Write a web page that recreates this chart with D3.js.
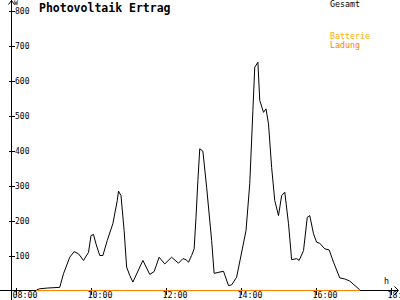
<!DOCTYPE html>
<html>
<head>
<meta charset="utf-8">
<script src="https://cdn.jsdelivr.net/npm/d3@7"></script>
<style>
  html, body { margin: 0; padding: 0; background: #fff; }
  svg { display: block; font-family: "DejaVu Sans Mono", monospace; }
</style>
</head>
<body>
<div id="chart"></div>
<script>
// data
const times = ['08:33','08:38','08:50','09:10','09:16','09:26','09:33','09:40','09:48','09:56',
  '10:00','10:04','10:08','10:14','10:19','10:26','10:35','10:42','10:44','10:48',
  '10:53','10:57','11:02','11:07','11:23','11:34','11:41','11:49','11:58','12:09',
  '12:20','12:27','12:32','12:36','12:41','12:45','12:48','12:51','12:54','12:59',
  '13:05','13:13','13:17','13:32','13:40','13:45','13:53','14:08','14:14','14:19',
  '14:22','14:27','14:30','14:36','14:40','14:44','14:49','14:54','15:00','15:05',
  '15:10','15:16','15:21','15:29','15:33','15:40','15:46','15:50','15:56','16:01',
  '16:06','16:14','16:21','16:28','16:38','16:46','16:54','17:10'];
const gesamt = [2,5,7,9,48,95,111,105,86,109,
  157,160,133,100,100,143,191,257,284,271,
  171,67,43,24,86,46,54,95,76,95,
  78,91,88,81,100,119,209,314,405,398,
  295,143,49,55,14,16,38,171,305,514,
  638,652,543,509,519,476,352,257,214,271,
  281,191,88,91,86,114,209,214,162,138,
  135,119,116,81,36,33,27,2];
const ladungTimes = ['08:32','17:10'];
const ladung = [0, 0];
const xTicks = ['08:00','10:00','12:00','14:00','16:00','18:00'];
const yTicks = [100,200,300,400,500,600,700,800];
const legend = ['Batterie','Ladung'];
const legendColors = ['#ffb000','#ff8000'];

const W = 400, H = 300;
const toH = s => { const [h, m] = s.split(':').map(Number); return h + m / 60; };

const x = d3.scaleLinear().domain([8, 18]).range([16, 391]);
const y = d3.scaleLinear().domain([0, 800]).range([290.5, 10.5]);

const svg = d3.select('#chart').append('svg')
  .attr('width', W).attr('height', H);

// axes lines
svg.append('line').attr('x1', 0).attr('x2', 398).attr('y1', 290.5).attr('y2', 290.5)
  .attr('stroke', '#000').attr('shape-rendering', 'crispEdges');
svg.append('line').attr('x1', 11.5).attr('x2', 11.5).attr('y1', 0).attr('y2', 300)
  .attr('stroke', '#000').attr('shape-rendering', 'crispEdges');
// arrow heads
svg.append('path').attr('d', 'M8.5,4.5 L11.5,0.5 L14.5,4.5').attr('fill', 'none').attr('stroke', '#000');
svg.append('path').attr('d', 'M394.5,286.5 L398.5,290.5 L394.5,294.5').attr('fill', 'none').attr('stroke', '#000');

// y axis
const gy = svg.append('g').attr('transform', 'translate(11.5,0)')
  .call(d3.axisRight(y).tickValues(yTicks).tickSize(3).tickPadding(1));
gy.select('.domain').remove();
gy.selectAll('.tick line').attr('x1', -3).attr('x2', 3).attr('shape-rendering', 'crispEdges');
gy.selectAll('.tick text').attr('x', 3.5).attr('dy', '0.4em').attr('font-size', 8)
  .attr('font-family', '"DejaVu Sans Mono", monospace').attr('fill', '#000');

// x axis
const gx = svg.append('g').attr('transform', 'translate(0,290.5)')
  .call(d3.axisBottom(x).tickValues(xTicks.map(toH)).tickSize(4)
    .tickFormat((d, i) => i === xTicks.length - 1 ? '18:' : xTicks[i]));
gx.select('.domain').remove();
gx.selectAll('.tick line').attr('y1', -3).attr('y2', 4).attr('shape-rendering', 'crispEdges');
gx.selectAll('.tick text').attr('y', 2).attr('dy', '0.71em').attr('x', -4)
  .attr('text-anchor', 'start').attr('font-size', 8.3)
  .attr('font-family', '"DejaVu Sans Mono", monospace').attr('fill', '#000');

// units
svg.append('text').attr('x', 14).attr('y', 5).attr('font-size', 6.5).text('W');
svg.append('text').attr('x', 384).attr('y', 284).attr('font-size', 8.3).text('h');

// series
const line = d3.line().x(d => x(toH(d[0]))).y(d => y(d[1]));
svg.append('path').datum(d3.zip(ladungTimes, ladung)).attr('d', line)
  .attr('fill', 'none').attr('stroke', legendColors[1]).attr('stroke-width', 1.2)
  .attr('shape-rendering', 'crispEdges');
svg.append('path').datum(d3.zip(times, gesamt)).attr('d', line)
  .attr('fill', 'none').attr('stroke', '#000').attr('stroke-width', 1);

// title and legend
svg.append('text').attr('x', 39).attr('y', 12).attr('font-size', 11.5)
  .attr('font-weight', 'bold').text('Photovoltaik Ertrag');
svg.append('text').attr('x', 330).attr('y', 7).attr('font-size', 8.3).text('Gesamt');
svg.selectAll('.leg').data(legend).join('text')
  .attr('x', 330).attr('y', (d, i) => 39 + i * 9)
  .attr('font-size', 8.3).attr('fill', (d, i) => legendColors[i]).text(d => d);
</script>
</body>
</html>
